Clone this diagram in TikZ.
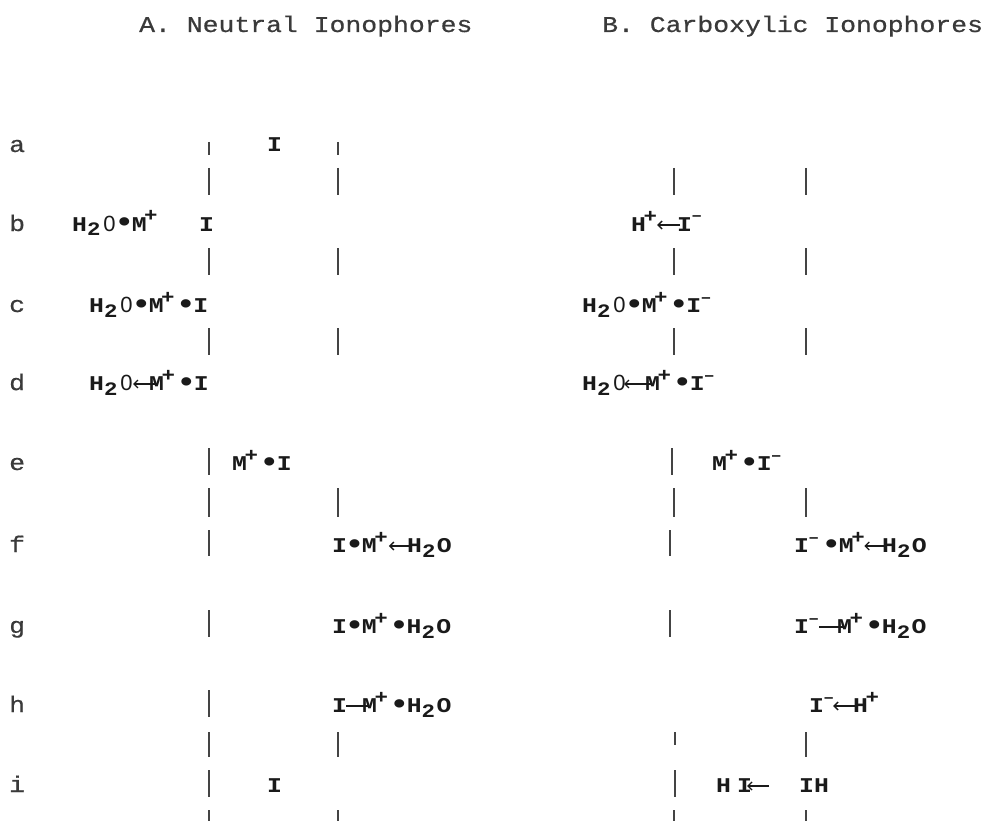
\documentclass[tikz,border=0pt]{standalone}
\usepackage{fontspec}
\usetikzlibrary{arrows.meta}
\newfontfamily\hdfont[FakeStretch=1.17,FakeBold=0.6]{Liberation Mono}
\newfontfamily\fmfont[FakeStretch=1.18]{Liberation Mono}
\newfontfamily\zrfont{Liberation Sans}
\definecolor{ink}{HTML}{1A1A1A}
\definecolor{hdink}{HTML}{3A3A3A}
\definecolor{barink}{HTML}{444444}
\newcommand{\Sb}[1]{\makebox[14.9pt][l]{\raisebox{-5pt}{\fontsize{19}{19}\selectfont #1}}}
\newcommand{\Sp}[1]{\makebox[14.9pt][l]{\hspace{-2.5pt}\raisebox{9pt}{\fontsize{19}{19}\selectfont #1}}}
\newcommand{\Mn}{\makebox[14.9pt][l]{\hspace{-1pt}\raisebox{10pt}{\fontsize{16}{16}\selectfont –}}}
\newcommand{\Zr}{\makebox[14.9pt]{\zrfont\mdseries\fontsize{22}{22}\selectfont 0}}
\newcommand{\Bt}{\makebox[14.9pt]{\raisebox{-1pt}{\fontsize{29}{29}\selectfont •}}}
\begin{document}
\begin{tikzpicture}[x=1pt,y=-1pt,
  hd/.style={anchor=base west,inner sep=0pt,font=\hdfont\fontsize{22.6}{24}\selectfont,text=hdink},
  lbl/.style={hd},
  fm/.style={anchor=base west,inner sep=0pt,font=\fmfont\bfseries\fontsize{21}{23}\selectfont,text=ink},
  memb/.style={draw=barink,line width=1.8pt},
  arr/.style={draw=ink,line width=1.3pt,-{Straight Barb[length=4pt,width=8pt]}},
  bond/.style={draw=ink,line width=1.3pt}]
\useasboundingbox (0,0) rectangle (993,821);
\fill[white] (0,0) rectangle (993,821);
% headers
\node[hd] (hA) at (139,32) {A. Neutral Ionophores};
\node[hd] (hB) at (602,32) {B. Carboxylic Ionophores};
% row labels
\node[lbl] (la) at (9,152) {a};
\node[lbl] (lb) at (9,231) {b};
\node[lbl] (lc) at (9,312) {c};
\node[lbl] (ld) at (9,390) {d};
\node[lbl] (le) at (9,470) {e};
\node[lbl] (lf) at (9,552) {f};
\node[lbl] (lg) at (9,633) {g};
\node[lbl] (lh) at (9,712) {h};
\node[lbl] (li) at (9,792) {i};
% membranes A
\foreach \x in {209,338} {
  \draw[memb] (\x,142) -- (\x,155);
  \draw[memb] (\x,168) -- (\x,195);
  \draw[memb] (\x,248) -- (\x,275);
  \draw[memb] (\x,328) -- (\x,355);
  \draw[memb] (\x,488) -- (\x,517);
  \draw[memb] (\x,732) -- (\x,757);
  \draw[memb] (\x,810) -- (\x,821);
}
\draw[memb] (209,448) -- (209,475);
\draw[memb] (209,530) -- (209,556);
\draw[memb] (209,610) -- (209,637);
\draw[memb] (209,690) -- (209,717);
\draw[memb] (209,770) -- (209,797);
% membranes B
\foreach \x in {674,806} {
  \draw[memb] (\x,168) -- (\x,195);
  \draw[memb] (\x,248) -- (\x,275);
  \draw[memb] (\x,328) -- (\x,355);
  \draw[memb] (\x,488) -- (\x,517);
  \draw[memb] (\x,810) -- (\x,821);
}
\draw[memb] (672,448) -- (672,475);
\draw[memb] (670,530) -- (670,556);
\draw[memb] (670,610) -- (670,637);
\draw[memb] (675,732) -- (675,745);
\draw[memb] (806,732) -- (806,757);
\draw[memb] (675,770) -- (675,797);
% formulas A
\node[fm] (aA) at (267,152) {I};
\node[fm] (bA1) at (72,231) {H\Sb{2}\Zr\Bt M\Sp{+}};
\node[fm] (bA2) at (199,231) {I};
\node[fm] (cA) at (89,312) {H\Sb{2}\Zr\Bt M\Sp{+}\Bt I};
\node[fm] (dA1) at (89,390) {H\Sb{2}\Zr};
\node[fm] (dA2) at (149,390) {M\Sp{+}\Bt I};
\draw[arr] ([xshift=8pt,yshift=6pt]dA2.base west) -- ([xshift=-1pt,yshift=6pt]dA1.base east);
\node[fm] (eA) at (232,470) {M\Sp{+}\Bt I};
\node[fm] (fA1) at (332,552) {I\Bt M\Sp{+}};
\node[fm] (fA2) at (407,552) {H\Sb{2}O};
\draw[arr] ([xshift=5pt,yshift=6pt]fA2.base west) -- ([xshift=-3pt,yshift=6pt]fA1.base east);
\node[fm] (gA) at (332,633) {I\Bt M\Sp{+}\Bt H\Sb{2}O};
\node[fm] (hA1) at (332,712) {I};
\node[fm] (hA2) at (362,712) {M\Sp{+}\Bt H\Sb{2}O};
\draw[bond] ([xshift=-1pt,yshift=6pt]hA1.base east) -- ([xshift=6pt,yshift=6pt]hA2.base west);
\node[fm] (iA) at (267,792) {I};
% formulas B
\node[fm] (bB1) at (631,231) {H\Sp{+}};
\node[fm] (bB2) at (677,231) {I\Mn};
\draw[arr] ([xshift=3pt,yshift=6pt]bB2.base west) -- ([xshift=-4pt,yshift=6pt]bB1.base east);
\node[fm] (cB) at (582,312) {H\Sb{2}\Zr\Bt M\Sp{+}\Bt I\Mn};
\node[fm] (dB1) at (582,390) {H\Sb{2}\Zr};
\node[fm] (dB2) at (645,390) {M\Sp{+}\Bt I\Mn};
\draw[arr] ([xshift=7pt,yshift=6pt]dB2.base west) -- ([xshift=-3pt,yshift=6pt]dB1.base east);
\node[fm] (eB) at (712,470) {M\Sp{+}\Bt I\Mn};
\node[fm] (fB1) at (794,552) {I\Mn\Bt M\Sp{+}};
\node[fm] (fB2) at (882,552) {H\Sb{2}O};
\draw[arr] ([xshift=3pt,yshift=6pt]fB2.base west) -- ([xshift=-4.5pt,yshift=6pt]fB1.base east);
\node[fm] (gB1) at (794,633) {I\Mn};
\node[fm] (gB2) at (837,633) {M\Sp{+}\Bt H\Sb{2}O};
\draw[bond] ([xshift=-5pt,yshift=6pt]gB1.base east) -- ([xshift=8pt,yshift=6pt]gB2.base west);
\node[fm] (hB1) at (809,712) {I\Mn};
\node[fm] (hB2) at (853,712) {H\Sp{+}};
\draw[arr] ([xshift=3pt,yshift=6pt]hB2.base west) -- ([xshift=-6pt,yshift=6pt]hB1.base east);
\node[fm] (iB1) at (716,792) {H\hspace{6pt}I};
\node[fm] (iB2) at (799,792) {IH};
\coordinate (iBt) at (769,786);
\draw[arr] (iBt) -- ([xshift=-5pt,yshift=6pt]iB1.base east);
\end{tikzpicture}
\end{document}
